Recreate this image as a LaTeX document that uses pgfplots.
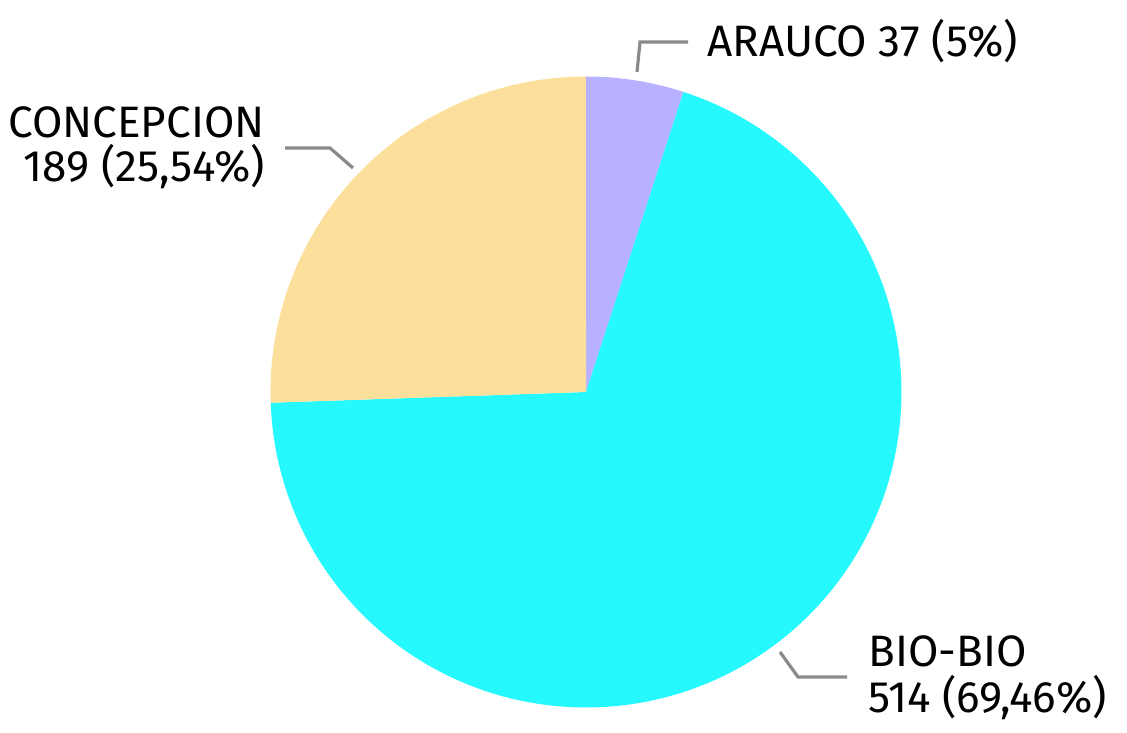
\documentclass[border=0pt]{standalone}
\usepackage{fontspec}
\setmainfont{Fira Sans}
\usepackage{pgfplots}
\pgfplotsset{compat=1.18}
\definecolor{araucocol}{HTML}{B7B1FF}
\definecolor{biocol}{HTML}{25F9FE}
\definecolor{conccol}{HTML}{FDDF9C}
\definecolor{leader}{HTML}{8A8A8A}

% slice values (counts)
\def\vArauco{37}
\def\vBio{514}
\def\vConc{189}
\pgfmathsetmacro{\total}{\vArauco+\vBio+\vConc}
% angles, clockwise from 12 o'clock
\pgfmathsetmacro{\aA}{90}
\pgfmathsetmacro{\aB}{\aA-360*(\vArauco/\total)}
\pgfmathsetmacro{\aC}{\aB-360*(\vBio/\total)}
\pgfmathsetmacro{\aD}{\aC-360*(\vConc/\total)}

\tikzset{lbl/.style={font=\fontsize{22}{26}\selectfont, text=black, inner sep=0pt}}

\begin{document}
\begin{tikzpicture}
\useasboundingbox (0,0) rectangle (563.5pt,366pt);
\begin{axis}[
  width=563.5pt, height=366pt, scale only axis,
  xmin=0, xmax=1127, ymin=0, ymax=732,
  axis lines=none, clip=false
]
\addplot[fill=araucocol, draw=none, domain=\aB:\aA, samples=30]
  ({586+315.5*cos(x)},{340+315.5*sin(x)}) -- (axis cs:586,340) -- cycle;
\addplot[fill=biocol, draw=none, domain=\aC:\aB, samples=200]
  ({586+315.5*cos(x)},{340+315.5*sin(x)}) -- (axis cs:586,340) -- cycle;
\addplot[fill=conccol, draw=none, domain=\aD:\aC, samples=80]
  ({586+315.5*cos(x)},{340+315.5*sin(x)}) -- (axis cs:586,340) -- cycle;

\draw[leader, line width=1.6pt] (axis cs:285,584) -- (axis cs:330,584) -- (axis cs:353,564);
\draw[leader, line width=1.6pt] (axis cs:637,660) -- (axis cs:640,690) -- (axis cs:688,690);
\draw[leader, line width=1.6pt] (axis cs:780,80) -- (axis cs:798,55) -- (axis cs:847,55);

\node[lbl, anchor=base east] at (axis cs:265,594) {CONCEPCION};
\node[lbl, anchor=base east] at (axis cs:265,550) {189 (25,54\%)};
\node[lbl, anchor=base west] at (axis cs:707,675) {ARAUCO 37 (5\%)};
\node[lbl, anchor=base west] at (axis cs:868,65) {BIO-BIO};
\node[lbl, anchor=base west] at (axis cs:868,20) {514 (69,46\%)};
\end{axis}
\end{tikzpicture}
\end{document}
